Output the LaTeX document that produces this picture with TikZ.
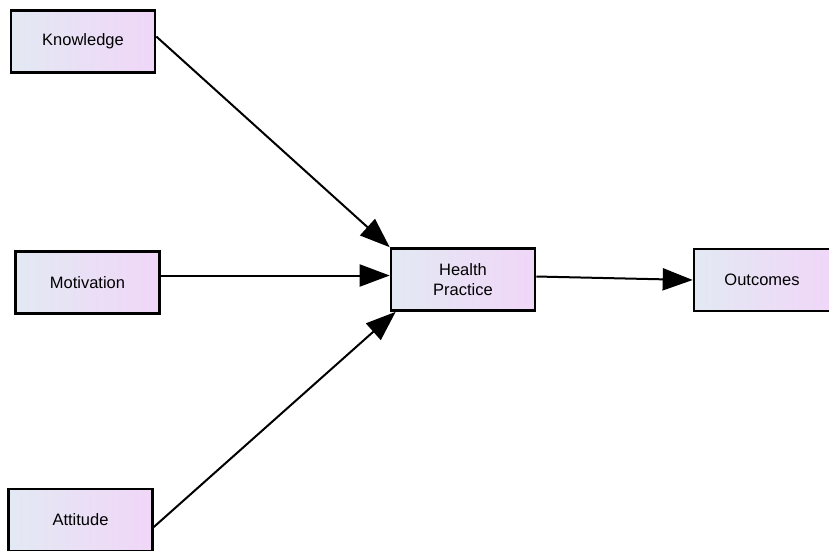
\documentclass[tikz,border=0pt]{standalone}
\usepackage{fontspec}
\setmainfont{Liberation Sans}
\usetikzlibrary{arrows.meta}
\definecolor{boxleft}{HTML}{E3E9F3}
\definecolor{boxright}{HTML}{F0D6F8}
\begin{document}
\begin{tikzpicture}[x=1pt,y=-1pt,
  factor/.style={draw=black,line width=2.6pt,left color=boxleft,right color=boxright,
    minimum width=144pt,minimum height=62pt,inner sep=0pt,align=center,
    font=\fontsize{16.5}{20}\selectfont},
  link/.style={line width=2pt,-{Triangle[length=30pt,width=22pt]}}]
\useasboundingbox (0,0) rectangle (829,550);
\node[factor] (know) at (83,41.5) {Knowledge};
\node[factor] (moti) at (87.5,282.5) {Motivation};
\node[factor] (attd) at (80.5,520) {Attitude};
\node[factor] (hp) at (463,279.5) {Health\\Practice};
\node[factor,minimum width=136pt] (out) at (762,280) {Outcomes};
\draw[link] ([yshift=5pt]know.east) -- (hp.north west);
\draw[link] ([yshift=7pt]moti.east) -- ([yshift=7pt]moti.east -| hp.west);
\draw[link] ([yshift=-7pt]attd.east) -- ([xshift=6pt]hp.south west);
\draw[link] ([yshift=3pt]hp.east) -- (out.west);
\end{tikzpicture}
\end{document}
